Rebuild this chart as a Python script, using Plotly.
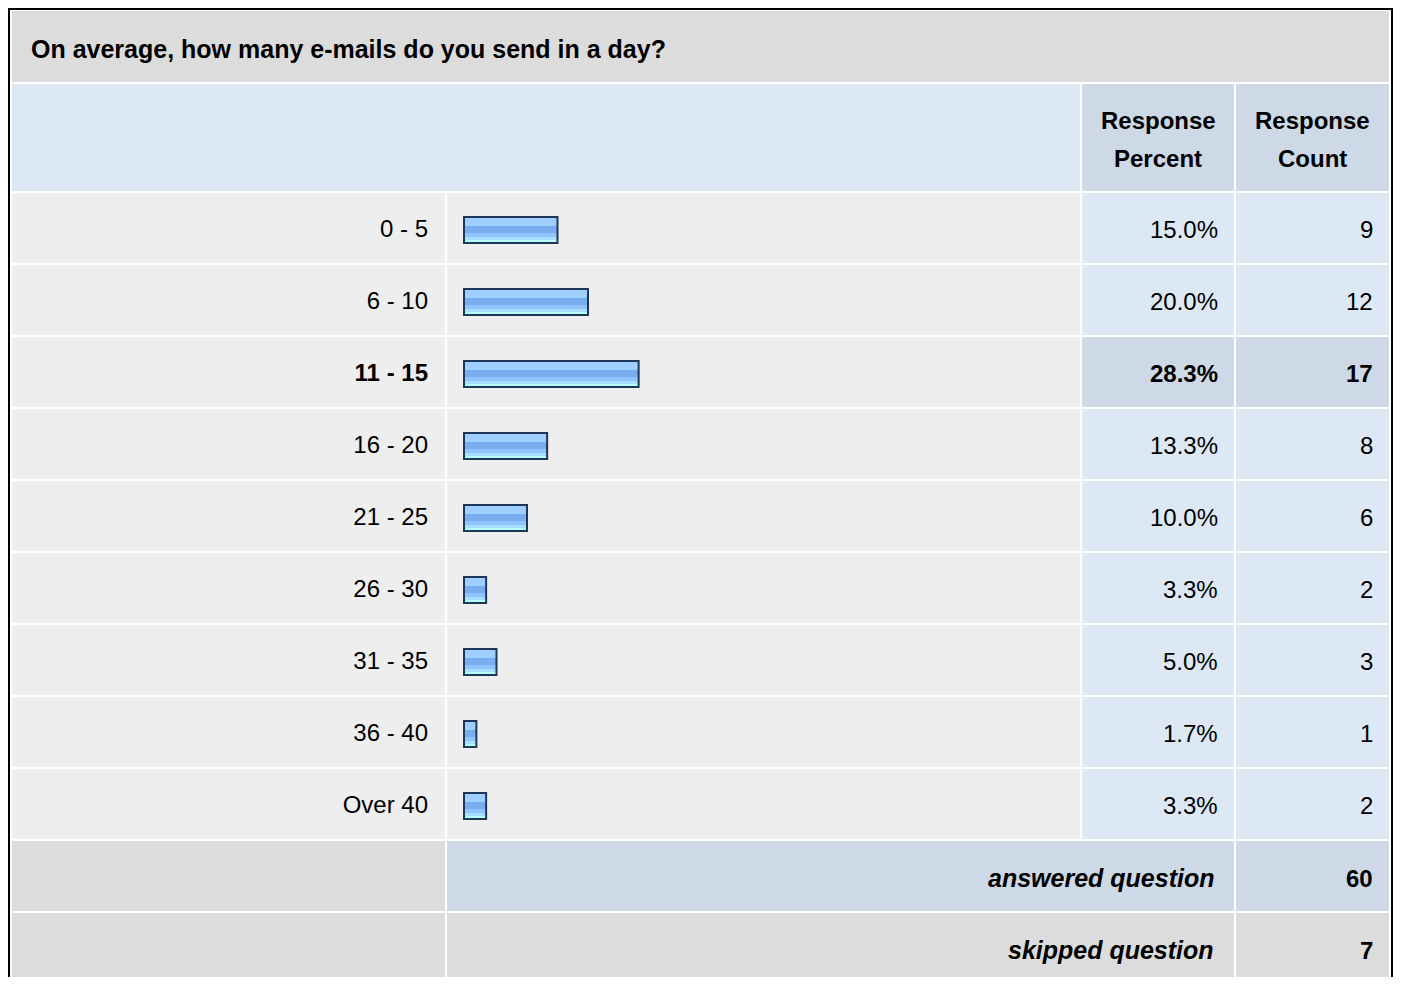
import plotly.graph_objects as go

## Data:
# ============================================================================
title = 'On average, how many e-mails do you send in a day?'
categories = ['0 - 5', '6 - 10', '11 - 15', '16 - 20', '21 - 25',
              '26 - 30', '31 - 35', '36 - 40', 'Over 40']
percents = [15.0, 20.0, 28.3, 13.3, 10.0, 3.3, 5.0, 1.7, 3.3]
counts = [9, 12, 17, 8, 6, 2, 3, 1, 2]
header_percent = ['Response', 'Percent']
header_count = ['Response', 'Count']
answered = 60
skipped = 7

## Page geometry (page pixels, body margin of 8px):
# ============================================================================
W, H = 1385, 969
FONT = 'Liberation Sans, Arial, sans-serif'
FS = 24
ROW_H = 72
ROW0 = 193
PX_PER_PCT = 6.1
n = len(categories)
top_idx = percents.index(max(percents))

GREY = '#dcdcdc'
LIGHT = '#eeeeee'
BLUE = '#dde8f5'
BLUE_DARK = '#cdd9e6'


def px(x):
    return (x - 8) / W


def py(y):
    return 1 - (y - 8) / H


fig = go.Figure()

## Cell backgrounds:
# --------------------------------------
shapes = []


def cell(x0, y0, x1, y1, color):
    shapes.append(dict(type='rect', xref='paper', yref='paper', layer='below',
                       x0=px(x0), x1=px(x1), y0=py(y1), y1=py(y0),
                       fillcolor=color, line=dict(width=0)))


cell(12, 11, 1389, 82, GREY)
cell(12, 84, 1080, 191, BLUE)
cell(1082, 84, 1234, 191, BLUE_DARK)
cell(1236, 84, 1389, 191, BLUE_DARK)
for i in range(n):
    y0 = ROW0 + i * ROW_H
    y1 = y0 + ROW_H - 2
    c = BLUE_DARK if i == top_idx else BLUE
    cell(12, y0, 445, y1, LIGHT)
    cell(447, y0, 1080, y1, LIGHT)
    cell(1082, y0, 1234, y1, c)
    cell(1236, y0, 1389, y1, c)
ya = ROW0 + n * ROW_H
cell(12, ya, 445, ya + 70, GREY)
cell(447, ya, 1234, ya + 70, BLUE_DARK)
cell(1236, ya, 1389, ya + 70, BLUE_DARK)
ys = ya + ROW_H
cell(12, ys, 445, ys + 80, GREY)
cell(447, ys, 1234, ys + 80, GREY)
cell(1236, ys, 1389, ys + 80, GREY)

# outer black frame
shapes.append(dict(type='rect', xref='paper', yref='paper', layer='above',
                   x0=1 / W, x1=1 - 1 / W, y0=-0.1, y1=1 - 1 / H,
                   line=dict(width=2, color='#000000')))

## Bars (dark frame + glossy bands):
# --------------------------------------
fig.add_trace(go.Bar(
    y=categories, x=percents, orientation='h',
    width=24 / ROW_H, offset=-11 / ROW_H,
    marker=dict(color='#1f3657', line=dict(width=4, color='#1f3657')),
    hoverinfo='none', showlegend=False,
))
bands = [(-11, -3, '#9ecffe'), (-3, 4, '#78adef'), (4, 8, '#90c5fb'),
         (8, 11, '#a8ddff'), (11, 13, '#b8ffff')]
for t, b, color in bands:
    fig.add_trace(go.Bar(
        y=categories, x=percents, orientation='h',
        width=(b - t) / ROW_H, offset=t / ROW_H,
        marker=dict(color=color, line=dict(width=0)),
        hoverinfo='none', showlegend=False,
    ))

## Texts:
# --------------------------------------
ann = []
ann.append(dict(x=px(29), y=py(49), xref='paper', yref='paper', text='<b>%s</b>' % title,
                xanchor='left', yanchor='middle', showarrow=False,
                font=dict(family=FONT, size=25, color='#000')))
for xc, lines in [(1158, header_percent), (1312, header_count)]:
    for yc, t in zip([121, 159], lines):
        ann.append(dict(x=px(xc), y=py(yc), xref='paper', yref='paper', text='<b>%s</b>' % t,
                        xanchor='center', yanchor='middle', showarrow=False,
                        font=dict(family=FONT, size=FS, color='#000')))
for i in range(n):
    p = '%.1f%%' % percents[i]
    c = str(counts[i])
    if i == top_idx:
        p, c = '<b>%s</b>' % p, '<b>%s</b>' % c
    ann.append(dict(x=px(1220), y=i, xref='paper', yref='y', text=p,
                    xanchor='right', yanchor='middle', showarrow=False,
                    font=dict(family=FONT, size=FS, color='#000')))
    ann.append(dict(x=px(1375), y=i, xref='paper', yref='y', text=c,
                    xanchor='right', yanchor='middle', showarrow=False,
                    font=dict(family=FONT, size=FS, color='#000')))
for yc, label, val in [(ya + 37, 'answered question', answered),
                       (ys + 37, 'skipped question', skipped)]:
    ann.append(dict(x=px(1216), y=py(yc), xref='paper', yref='paper',
                    text='<b><i>%s</i></b>' % label,
                    xanchor='right', yanchor='middle', showarrow=False,
                    font=dict(family=FONT, size=FS + 1, color='#000')))
    ann.append(dict(x=px(1375), y=py(yc), xref='paper', yref='paper',
                    text='<b>%s</b>' % val,
                    xanchor='right', yanchor='middle', showarrow=False,
                    font=dict(family=FONT, size=FS, color='#000')))

ticktext = ['<b>%s</b>' % c if i == top_idx else c for i, c in enumerate(categories)]

## Layout:
# --------------------------------------
fig.update_layout(
    width=W, height=H,
    margin=dict(l=0, r=0, t=0, b=0),
    paper_bgcolor='#ffffff', plot_bgcolor='rgba(0,0,0,0)',
    barmode='overlay',
    shapes=shapes, annotations=ann,
    xaxis=dict(domain=[px(447), px(1080)],
               range=[-18 / PX_PER_PCT, (1080 - 447 - 18) / PX_PER_PCT],
               showgrid=False, zeroline=False, showticklabels=False,
               fixedrange=True),
    yaxis=dict(domain=[py(ROW0 + n * ROW_H), py(ROW0)], type='category',
               range=[n - 0.5, -0.5], showgrid=False, zeroline=False,
               tickvals=categories, ticktext=ticktext, ticks='',
               ticklabelstandoff=18, fixedrange=True,
               tickfont=dict(family=FONT, size=FS, color='#000')),
)

fig.write_html("out.html")
